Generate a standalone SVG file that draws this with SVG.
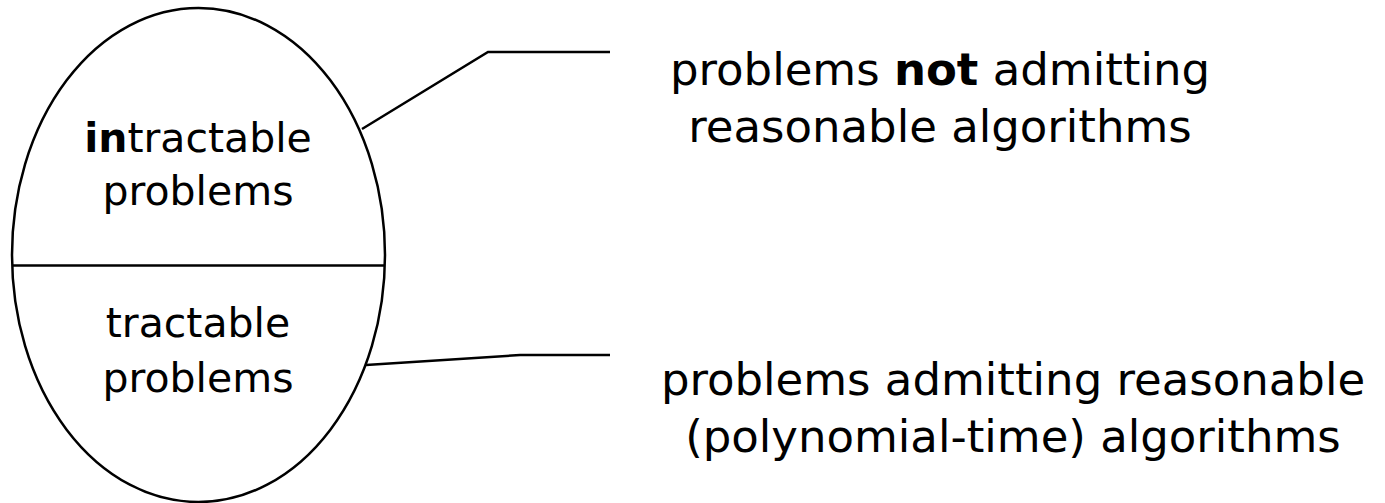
<svg xmlns="http://www.w3.org/2000/svg" width="1385" height="503" viewBox="0 0 1385 503">
<style>
.s{fill:none;stroke:#000;stroke-width:2.5}
.t{font-family:"DejaVu Sans","Liberation Sans",sans-serif;fill:#000;text-anchor:middle}
.l{font-size:41px}
.r{font-size:45px}
</style>
<rect width="1385" height="503" fill="#fff"/>
<g id="set">
<ellipse class="s" cx="198.5" cy="255" rx="186.5" ry="247"/>
<line class="s" x1="12" y1="265.5" x2="385" y2="265.5"/>
</g>
<g id="intractable">
<text class="t l" x="198" y="152"><tspan font-weight="bold">in</tspan>tractable</text>
<text class="t l" x="198" y="205">problems</text>
</g>
<g id="tractable">
<text class="t l" x="198" y="337">tractable</text>
<text class="t l" x="198" y="392">problems</text>
</g>
<g id="connectors">
<polyline class="s" points="362,129 488,52 610,52"/>
<polyline class="s" points="366,365 520,355 610,355"/>
</g>
<g id="note-intractable">
<text class="t r" x="940" y="85">problems <tspan font-weight="bold">not</tspan> admitting</text>
<text class="t r" x="940" y="142">reasonable algorithms</text>
</g>
<g id="note-tractable">
<text class="t r" x="1013" y="395">problems admitting reasonable</text>
<text class="t r" x="1013" y="452">(polynomial-time) algorithms</text>
</g>
</svg>
